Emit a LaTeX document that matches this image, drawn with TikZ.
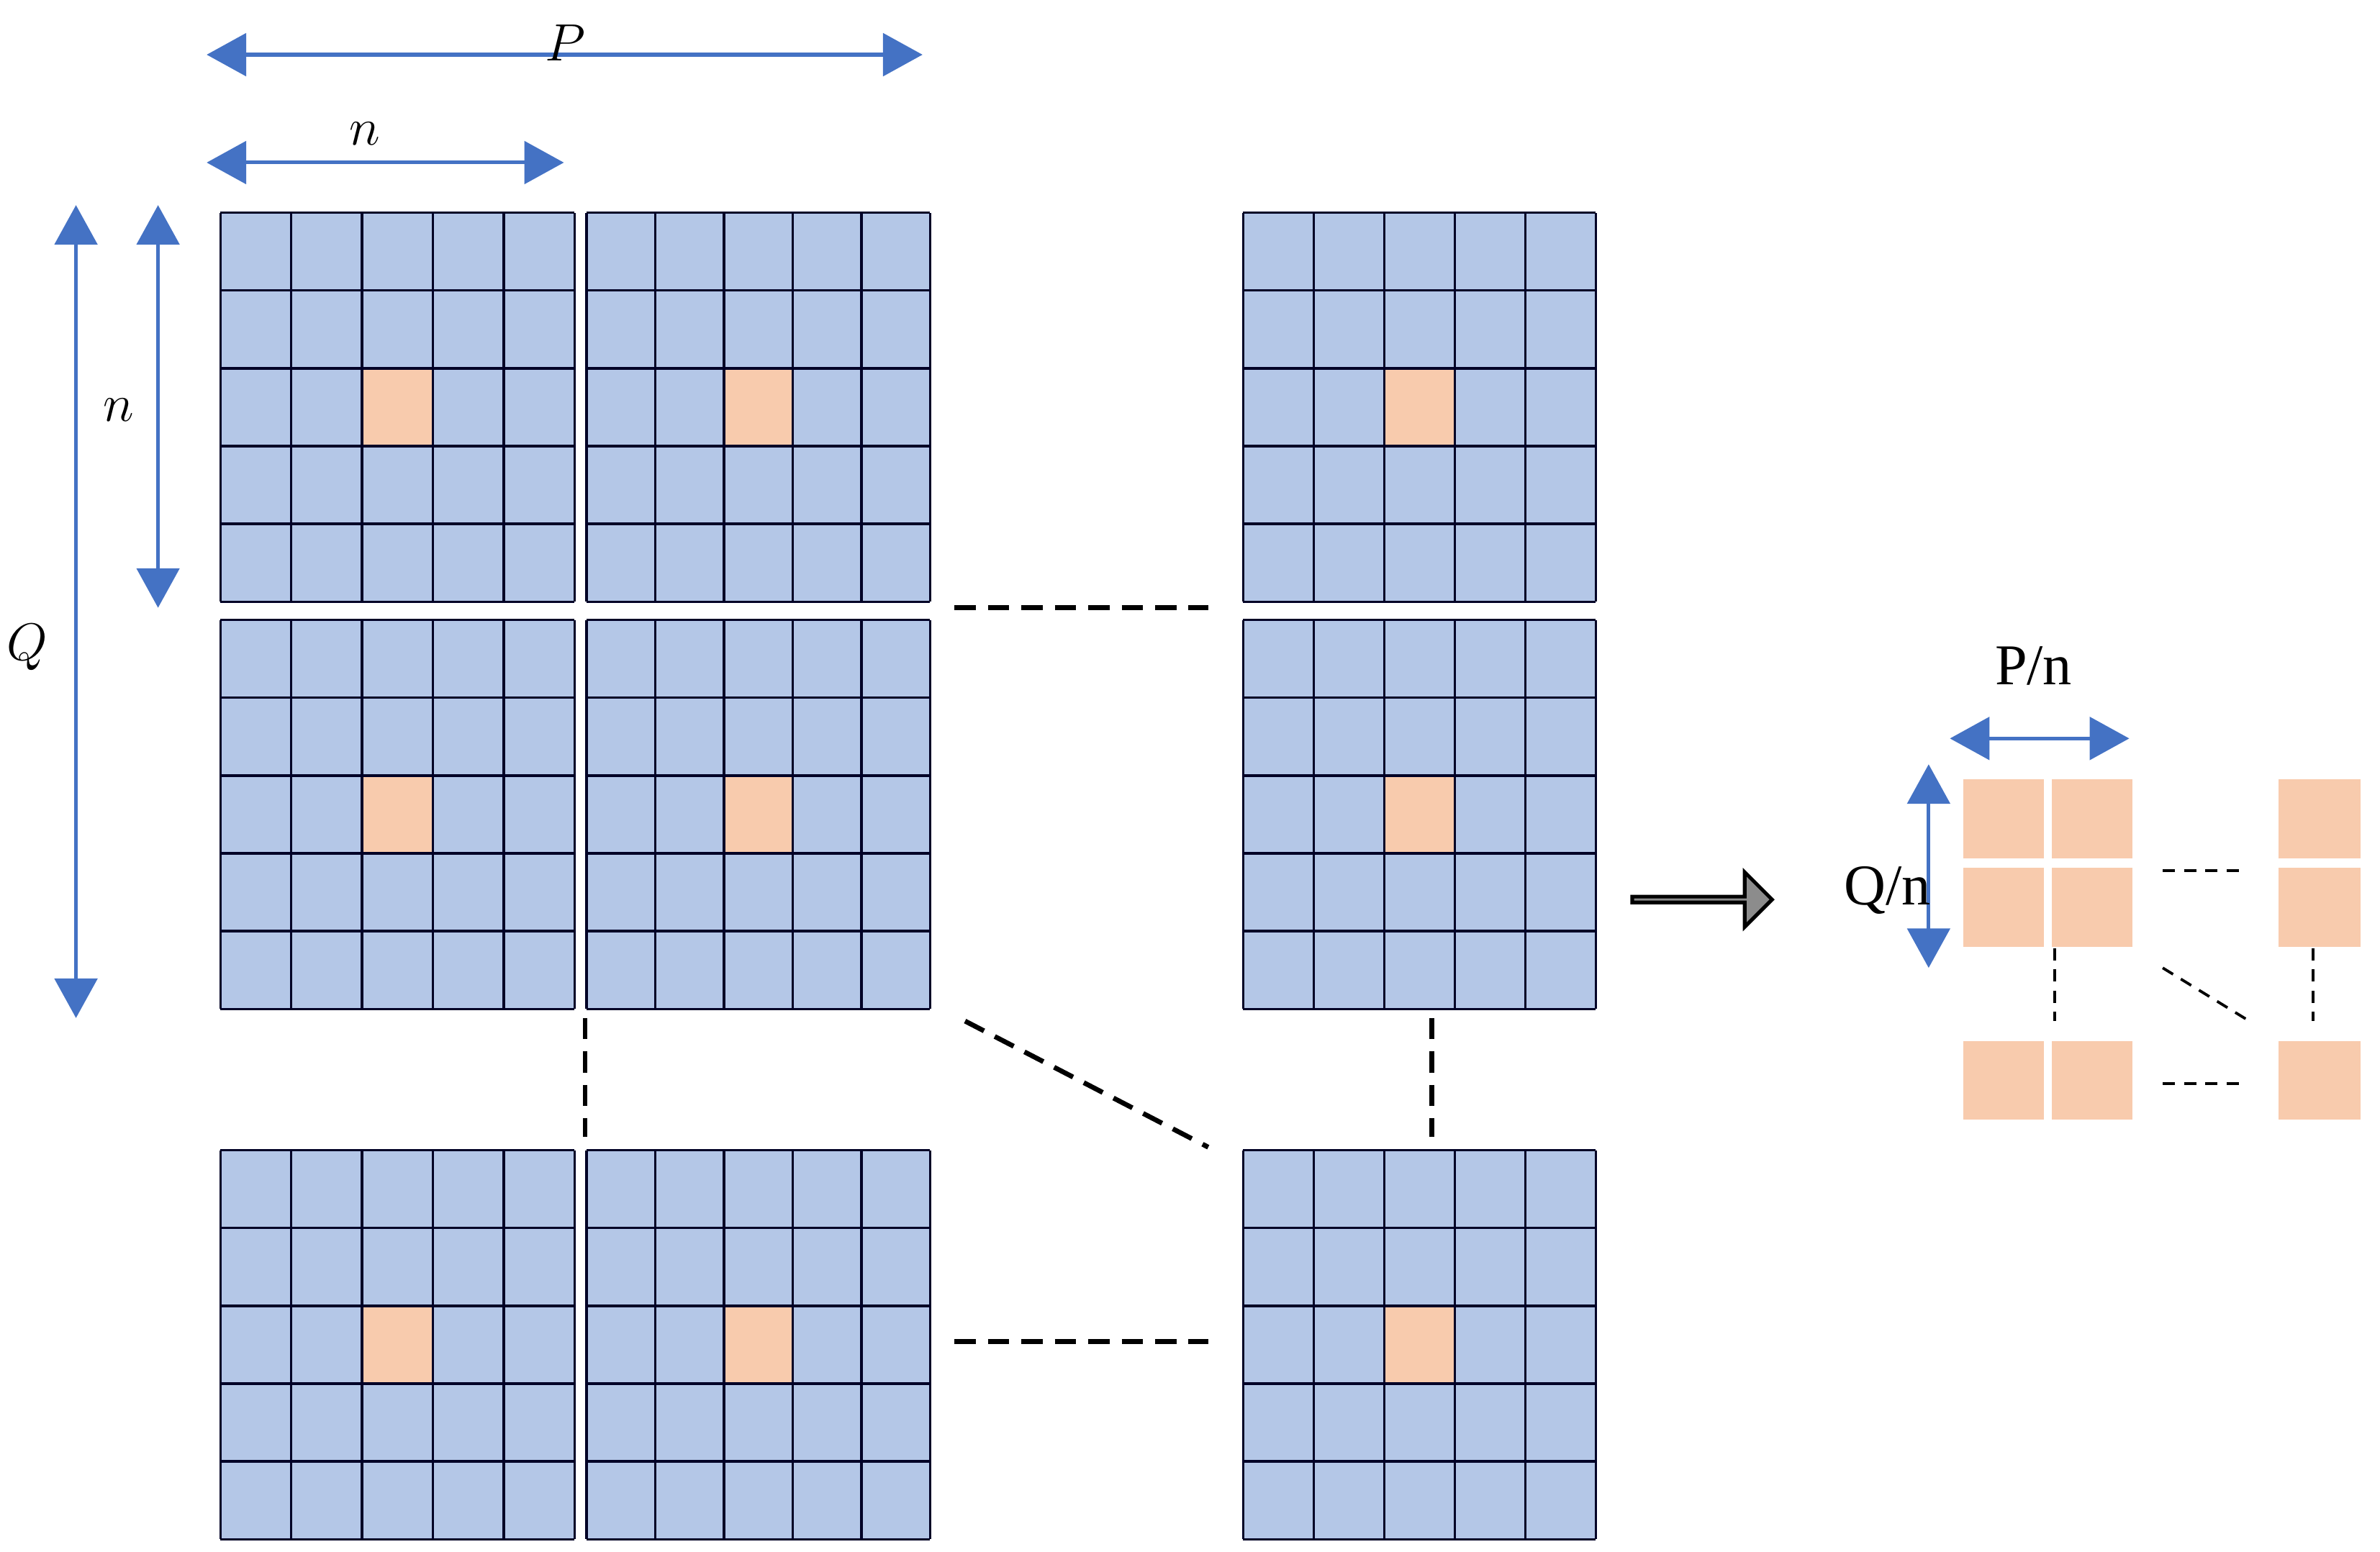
\documentclass[tikz,border=0pt]{standalone}
\usepackage{fontspec}
\newfontfamily\tnr{Liberation Serif}
\usetikzlibrary{arrows.meta,shapes.arrows}
\definecolor{cellblue}{HTML}{B4C7E7}
\definecolor{cellor}{HTML}{F8CBAD}
\definecolor{arrblue}{HTML}{4472C4}
\begin{document}
\begin{tikzpicture}[x=0.5pt,y=-0.5pt,
  dim/.style={arrblue,line width=1.2pt,{Triangle[width=14pt,length=13pt]}-{Triangle[width=14pt,length=13pt]}},
  bigdash/.style={line width=1.6pt,dash pattern=on 7pt off 4pt},
  smalldash/.style={line width=0.9pt,dash pattern=on 4pt off 3pt},
  lab/.style={font=\fontsize{18}{20}\selectfont},
  tlab/.style={font=\fontsize{19}{21}\selectfont\tnr},
  orsq/.style={fill=cellor,draw=none}]
\useasboundingbox (0,0) rectangle (1566,1021);
% blocks
\foreach \bx/\bw in {145/233,386/226,818/232}{
  \foreach \by in {140,408,757}{
    \pgfmathsetmacro{\cw}{\bw/5}
    \pgfmathsetmacro{\ch}{256/5}
    \fill[cellblue] (\bx,\by) rectangle ++(\bw,256);
    \fill[cellor] ({\bx+2*\cw},{\by+2*\ch}) rectangle ++(\cw,\ch);
    \foreach \i in {0,...,5}{
      \draw[line width=0.8pt,black!85!blue] ({\bx+\i*\cw},\by) -- ++(0,256);
      \draw[line width=0.8pt,black!85!blue] (\bx,{\by+\i*\ch}) -- ++(\bw,0);
    }
  }
}
% dimension arrows
\coordinate (p1) at (136,36); \coordinate (p2) at (607,36);
\draw[dim] (p1) -- (p2);
\node[lab] (P) at (372,28) {$P$};
\coordinate (n1) at (136,107); \coordinate (n2) at (371,107);
\draw[dim] (n1) -- (n2);
\node[lab] (nh) at (240,88) {$n$};
\coordinate (q1) at (50,135); \coordinate (q2) at (50,670);
\draw[dim] (q1) -- (q2);
\node[lab] (Q) at (18,426) {$Q$};
\coordinate (v1) at (104,135); \coordinate (v2) at (104,400);
\draw[dim] (v1) -- (v2);
\node[lab] (nv) at (78,270) {$n$};
% dashes
\coordinate (d1a) at (628,400); \coordinate (d1b) at (795,400);
\draw[bigdash] (d1a) -- (d1b);
\coordinate (d2a) at (628,883); \coordinate (d2b) at (795,883);
\draw[bigdash] (d2a) -- (d2b);
\coordinate (d3a) at (385,670); \coordinate (d3b) at (385,748);
\draw[bigdash] (d3a) -- (d3b);
\coordinate (d4a) at (942,670); \coordinate (d4b) at (942,748);
\draw[bigdash] (d4a) -- (d4b);
\coordinate (d5a) at (635,672); \coordinate (d5b) at (795,755);
\draw[bigdash] (d5a) -- (d5b);
% block arrow
\node[single arrow,draw=black,line width=1.2pt,fill=gray!90,minimum height=46pt,
  single arrow head extend=5pt,minimum width=18pt,inner sep=0pt] (ga) at (1119,592) {};
% right panel
\fill[orsq] (1292,513) rectangle (1345,565);
\fill[orsq] (1350,513) rectangle (1403,565);
\fill[orsq] (1292,571) rectangle (1345,623);
\fill[orsq] (1350,571) rectangle (1403,623);
\fill[orsq] (1499,513) rectangle (1553,565);
\fill[orsq] (1499,571) rectangle (1553,623);
\fill[orsq] (1292,685) rectangle (1345,737);
\fill[orsq] (1350,685) rectangle (1403,737);
\fill[orsq] (1499,685) rectangle (1553,737);
\coordinate (pn1) at (1283,486); \coordinate (pn2) at (1401,486);
\draw[dim] (pn1) -- (pn2);
\node[tlab] (PN) at (1338,438) {P/n};
\coordinate (qn1) at (1269,503); \coordinate (qn2) at (1269,637);
\draw[dim] (qn1) -- (qn2);
\node[tlab] (QN) at (1242,586) {Q/n};
\coordinate (s1a) at (1423,573); \coordinate (s1b) at (1478,573);
\draw[smalldash] (s1a) -- (s1b);
\coordinate (s2a) at (1423,713); \coordinate (s2b) at (1478,713);
\draw[smalldash] (s2a) -- (s2b);
\coordinate (s3a) at (1352,624); \coordinate (s3b) at (1352,672);
\draw[smalldash] (s3a) -- (s3b);
\coordinate (s4a) at (1522,624); \coordinate (s4b) at (1522,672);
\draw[smalldash] (s4a) -- (s4b);
\coordinate (s5a) at (1423,637); \coordinate (s5b) at (1480,672);
\draw[smalldash] (s5a) -- (s5b);
\end{tikzpicture}
\end{document}
